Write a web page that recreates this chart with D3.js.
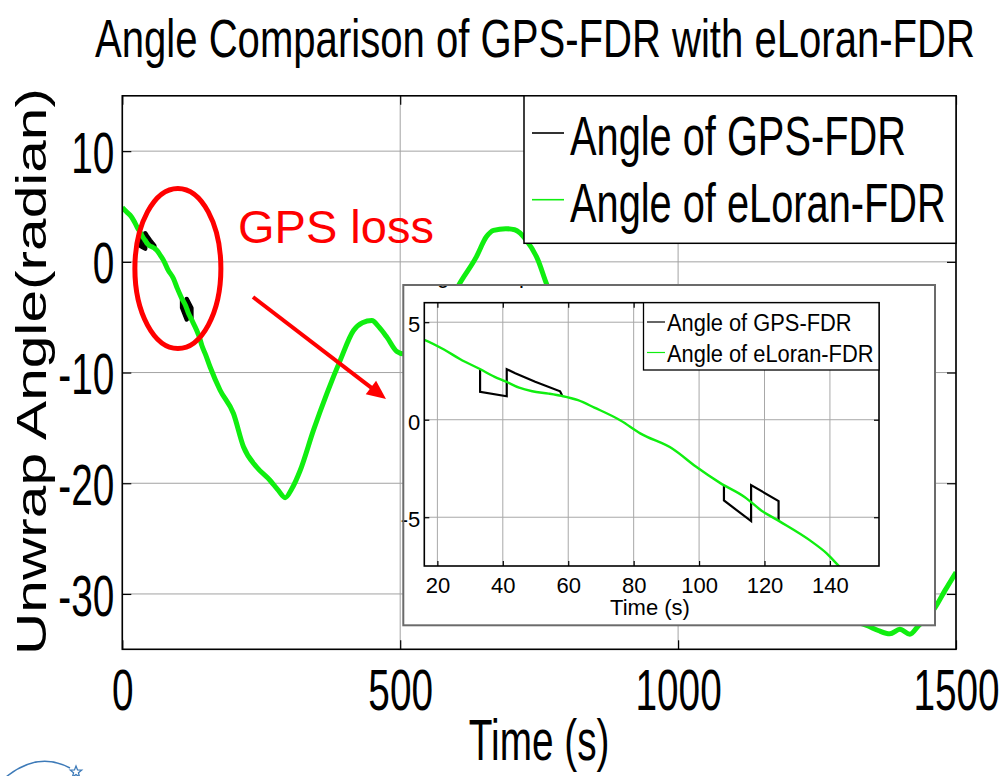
<!DOCTYPE html>
<html><head><meta charset="utf-8">
<script src="https://cdn.jsdelivr.net/npm/d3@7"></script>
<style>body{margin:0;background:#fff} svg{display:block} text{font-family:"Liberation Sans",Arial,Helvetica,sans-serif}</style>
</head><body><svg id="c" width="1005" height="776"></svg>
<script>
// ---------------- data ----------------
const titleText = "Angle Comparison of GPS-FDR with eLoran-FDR";
const seriesNames = ["Angle of GPS-FDR", "Angle of eLoran-FDR"];
const seriesColors = ["#000000", "#10ee10"];
const xLabelText = "Time (s)";
const yLabelText = "Unwrap Angle(radian)";
const annotationText = "GPS loss";

const mainXTicks = [0, 500, 1000, 1500];
const mainYTicks = [-30, -20, -10, 0, 10];
const insetXTicks = [20, 40, 60, 80, 100, 120, 140];
const insetYTicks = [-5, 0, 5];

const eloranT = [0,8,16,22,27,33,37.5,41,45,49,54,58,63,68,76,82,92,99,106.5,114,119,124.5,134,139,143,150,158,176,200,218,242,266,280,293,305,320,344,368,392,416,432,449,462,476,494,505,530,560,590,607,637,655,668,690,706,727,748,763,790,850,950,1050,1150,1250,1342,1360,1381,1399,1417,1432,1462,1480,1500];
const eloranV = [4.9,4.5,4.1,3.6,3.1,2.6,2.2,1.95,1.64,1.46,1.34,1.22,1.0,0.62,-0.04,-0.7,-1.5,-2.4,-3.25,-3.97,-4.65,-5.2,-6.2,-6.85,-7.54,-8.4,-9.5,-11.6,-13.7,-16.7,-18.55,-19.75,-20.6,-21.3,-20.5,-18.85,-15.2,-11.9,-8.9,-6.2,-5.5,-5.3,-5.9,-6.8,-8.1,-8.3,-7.5,-5.5,-3.5,-1.95,0.45,2.26,2.85,3.0,2.9,1.96,0.15,-1.95,-5,-11,-19,-25,-29,-31.5,-32.9,-33.3,-33.6,-33.2,-33.65,-32.9,-31.26,-29.7,-28.05];

const gpsT1 = [33.05, 33.05, 41.2, 41.2, 43.8, 49.9, 57.5, 58.1];
const gpsV1 = [2.59, 1.43, 1.2, 2.59, 2.38, 1.95, 1.46, 1.25];
const gpsT2 = [107.6, 107.6, 115.9, 115.9, 124.3, 124.3];
const gpsV2 = [-3.4, -4.14, -5.2, -3.35, -4.17, -5.17];

// ---------------- helpers ----------------
const eloran = eloranT.map((t, i) => [t, eloranV[i]]);
const gpsSegs = [gpsT1.map((t, i) => [t, gpsV1[i]]), gpsT2.map((t, i) => [t, gpsV2[i]])];
function fit(sel, k) {
  sel.each(function () {
    const L = this.getComputedTextLength();
    if (L > 0) { this.setAttribute("textLength", L * k); this.setAttribute("lengthAdjust", "spacingAndGlyphs"); }
  });
}
const svg = d3.select("#c");
const FONT = '"Liberation Sans",Arial,Helvetica,sans-serif';

// ---------------- main axes ----------------
const M = {l: 122.3, r: 956, t: 95.8, b: 649.3};
const x = d3.scaleLinear([0, 1500], [M.l, M.r]);
const y = d3.scaleLinear([-35, 15], [M.b, M.t]);
const defs = svg.append("defs");
defs.append("clipPath").attr("id", "mainClip").append("rect")
  .attr("x", M.l).attr("y", M.t).attr("width", M.r - M.l).attr("height", M.b - M.t);

// grid
const grid = svg.append("g").attr("stroke", "#a3a3a3").attr("stroke-width", 1);
grid.selectAll("line.h").data(mainYTicks).join("line").attr("class", "h")
  .attr("x1", M.l).attr("x2", M.r).attr("y1", d => y(d)).attr("y2", d => y(d));
grid.selectAll("line.v").data(mainXTicks).join("line").attr("class", "v")
  .attr("y1", M.t).attr("y2", M.b).attr("x1", d => x(d)).attr("x2", d => x(d));

// lines
const mainLine = d3.line().x(d => x(d[0])).y(d => y(d[1]));
const plotG = svg.append("g").attr("clip-path", "url(#mainClip)");
plotG.selectAll("path.gps").data(gpsSegs).join("path").attr("class", "gps")
  .attr("d", mainLine).attr("fill", "none").attr("stroke", seriesColors[0]).attr("stroke-width", 4.5)
  .attr("stroke-linejoin", "round");
plotG.append("path").attr("d", mainLine.curve(d3.curveMonotoneX)(eloran))
  .attr("fill", "none").attr("stroke", seriesColors[1]).attr("stroke-width", 5).attr("stroke-linejoin", "round");

// axes ticks (inward)
function styleAxis(g) { g.select(".domain").remove(); g.selectAll(".tick line").attr("stroke", "#000").attr("stroke-width", 1.2); }
const axL = svg.append("g").attr("transform", `translate(${M.l},0)`)
  .call(d3.axisLeft(y).tickValues(mainYTicks).tickSizeInner(-9).tickSizeOuter(0).tickPadding(8).tickFormat(d => String(d)));
styleAxis(axL);
axL.selectAll("text").attr("font-size", 57).attr("font-family", FONT).attr("fill", "#000").attr("dy", "0.37em");
fit(axL.selectAll("text"), 0.68);
const axR = svg.append("g").attr("transform", `translate(${M.r},0)`)
  .call(d3.axisRight(y).tickValues(mainYTicks).tickSizeInner(-9).tickSizeOuter(0).tickFormat(""));
styleAxis(axR);
const axB = svg.append("g").attr("transform", `translate(0,${M.b})`)
  .call(d3.axisBottom(x).tickValues(mainXTicks).tickSizeInner(-9).tickSizeOuter(0).tickPadding(20).tickFormat(d => String(d)));
styleAxis(axB);
axB.selectAll("text").attr("font-size", 57).attr("font-family", FONT).attr("fill", "#000").attr("dy", "0.71em");
fit(axB.selectAll("text"), 0.68);
const axT = svg.append("g").attr("transform", `translate(0,${M.t})`)
  .call(d3.axisTop(x).tickValues(mainXTicks).tickSizeInner(-9).tickSizeOuter(0).tickFormat(""));
styleAxis(axT);
svg.append("rect").attr("x", M.l).attr("y", M.t).attr("width", M.r - M.l).attr("height", M.b - M.t)
  .attr("fill", "none").attr("stroke", "#000").attr("stroke-width", 1.6);

// title and labels
svg.append("text").attr("x", 535).attr("y", 57).attr("text-anchor", "middle").attr("font-size", 54)
  .attr("textLength", 880).attr("lengthAdjust", "spacingAndGlyphs").text(titleText);
fit(svg.append("text").attr("x", (M.l + M.r) / 2).attr("y", 760).attr("text-anchor", "middle")
  .attr("font-size", 57).text(xLabelText), 0.68);
svg.append("text").attr("transform", "translate(46,371.5) rotate(-90)").attr("text-anchor", "middle")
  .attr("font-size", 42).attr("textLength", 567).attr("lengthAdjust", "spacingAndGlyphs").text(yLabelText);

// legend
const LG = {x: 524, y: 95.8, w: 956 - 524, h: 243.3 - 95.8};
svg.append("rect").attr("x", LG.x).attr("y", LG.y).attr("width", LG.w).attr("height", LG.h)
  .attr("fill", "#fff").attr("stroke", "#000").attr("stroke-width", 1.5);
const legRows = svg.append("g").selectAll("g").data(seriesNames).join("g")
  .attr("transform", (d, i) => `translate(0,${i * 66.7})`);
legRows.append("line").attr("x1", 532).attr("x2", 564).attr("y1", 133).attr("y2", 133)
  .attr("stroke", (d, i) => seriesColors[i]).attr("stroke-width", 1.6);
fit(legRows.append("text").attr("x", 570).attr("y", 155).attr("font-size", 56).text(d => d), 0.71);

// annotation
svg.append("ellipse").attr("cx", x(100)).attr("cy", y(-0.6)).attr("rx", 43).attr("ry", 80)
  .attr("fill", "none").attr("stroke", "#ff0000").attr("stroke-width", 5);
svg.append("text").attr("x", 238).attr("y", 243).attr("font-size", 47).attr("fill", "#ff0000").text(annotationText);
{
  const x0 = 253, y0 = 297, x1 = 386, y1 = 399;
  const dx = x1 - x0, dy = y1 - y0, L = Math.hypot(dx, dy), ux = dx / L, uy = dy / L;
  const hl = 19, hw = 8.5, bx = x1 - ux * hl, by = y1 - uy * hl;
  svg.append("line").attr("x1", x0).attr("y1", y0).attr("x2", bx + ux * 2).attr("y2", by + uy * 2)
    .attr("stroke", "#ff0000").attr("stroke-width", 4);
  svg.append("polygon").attr("points", `${x1},${y1} ${bx - uy * hw},${by + ux * hw} ${bx + uy * hw},${by - ux * hw}`)
    .attr("fill", "#ff0000");
}

// ---------------- inset ----------------
const O = {l: 403.3, t: 285, r: 935, b: 625.3};
const I = {l: 424.3, r: 879, t: 302.7, b: 566};
const xi = d3.scaleLinear([16, 155], [I.l, I.r]);
const yi = d3.scaleLinear([-7.5, 6], [I.b, I.t]);
defs.append("clipPath").attr("id", "outerClip").append("rect")
  .attr("x", O.l).attr("y", O.t).attr("width", O.r - O.l).attr("height", O.b - O.t);
defs.append("clipPath").attr("id", "insetClip").append("rect")
  .attr("x", I.l).attr("y", I.t).attr("width", I.r - I.l).attr("height", I.b - I.t);
svg.append("rect").attr("x", O.l).attr("y", O.t).attr("width", O.r - O.l).attr("height", O.b - O.t)
  .attr("fill", "#fff");
// clipped inset title (only descenders show)
svg.append("g").attr("clip-path", "url(#outerClip)").append("text")
  .attr("x", (I.l + I.r) / 2).attr("y", 283).attr("text-anchor", "middle").attr("font-size", 22).text(titleText);

const ig = svg.append("g").attr("stroke", "#a8a8a8").attr("stroke-width", 1);
ig.selectAll("line.h").data(insetYTicks).join("line").attr("class", "h")
  .attr("x1", I.l).attr("x2", I.r).attr("y1", d => yi(d)).attr("y2", d => yi(d));
ig.selectAll("line.v").data(insetXTicks).join("line").attr("class", "v")
  .attr("y1", I.t).attr("y2", I.b).attr("x1", d => xi(d)).attr("x2", d => xi(d));

const insetLine = d3.line().x(d => xi(d[0])).y(d => yi(d[1]));
const ip = svg.append("g").attr("clip-path", "url(#insetClip)");
ip.selectAll("path.gps").data(gpsSegs).join("path").attr("class", "gps").attr("d", insetLine)
  .attr("fill", "none").attr("stroke", seriesColors[0]).attr("stroke-width", 2.2);
ip.append("path").attr("d", insetLine.curve(d3.curveMonotoneX)(eloran))
  .attr("fill", "none").attr("stroke", seriesColors[1]).attr("stroke-width", 2.4);

const iaL = svg.append("g").attr("transform", `translate(${I.l},0)`)
  .call(d3.axisLeft(yi).tickValues(insetYTicks).tickSizeInner(-5).tickSizeOuter(0).tickPadding(4).tickFormat(d => String(d)));
styleAxis(iaL);
iaL.selectAll("text").attr("font-size", 22).attr("font-family", FONT).attr("fill", "#000").attr("dy", "0.43em");
const iaR = svg.append("g").attr("transform", `translate(${I.r},0)`)
  .call(d3.axisRight(yi).tickValues(insetYTicks).tickSizeInner(-5).tickSizeOuter(0).tickFormat(""));
styleAxis(iaR);
const iaB = svg.append("g").attr("transform", `translate(0,${I.b})`)
  .call(d3.axisBottom(xi).tickValues(insetXTicks).tickSizeInner(-5).tickSizeOuter(0).tickPadding(11).tickFormat(d => String(d)));
styleAxis(iaB);
iaB.selectAll("text").attr("font-size", 22).attr("font-family", FONT).attr("fill", "#000").attr("dy", "0.71em");
const iaT = svg.append("g").attr("transform", `translate(0,${I.t})`)
  .call(d3.axisTop(xi).tickValues(insetXTicks).tickSizeInner(-5).tickSizeOuter(0).tickFormat(""));
styleAxis(iaT);
svg.append("rect").attr("x", I.l).attr("y", I.t).attr("width", I.r - I.l).attr("height", I.b - I.t)
  .attr("fill", "none").attr("stroke", "#000").attr("stroke-width", 1.6);
svg.append("text").attr("x", 650).attr("y", 615).attr("text-anchor", "middle").attr("font-size", 22).text(xLabelText);

// inset legend
const IL = {x: 643.5, y: I.t, w: I.r - 643.5, h: 370 - I.t};
svg.append("rect").attr("x", IL.x).attr("y", IL.y).attr("width", IL.w).attr("height", IL.h)
  .attr("fill", "#fff").attr("stroke", "#000").attr("stroke-width", 1.3);
const ilRows = svg.append("g").selectAll("g").data(seriesNames).join("g")
  .attr("transform", (d, i) => `translate(0,${i * 30.5})`);
ilRows.append("line").attr("x1", 647).attr("x2", 665).attr("y1", 322).attr("y2", 322)
  .attr("stroke", (d, i) => seriesColors[i]).attr("stroke-width", 1.2);
fit(ilRows.append("text").attr("x", 667).attr("y", 331).attr("font-size", 23).text(d => d), 0.95);

// inset frame
svg.append("rect").attr("x", O.l).attr("y", O.t).attr("width", O.r - O.l).attr("height", O.b - O.t)
  .attr("fill", "none").attr("stroke", "#6b6b6b").attr("stroke-width", 2);

// logo fragment bottom-left
svg.append("path").attr("d", "M6,777 Q38,751 70,768").attr("fill", "none").attr("stroke", "#3d7ab8").attr("stroke-width", 1.5);
{
  const cx = 76, cy = 772, R = 6, r = 2.6, pts = [];
  for (let k = 0; k < 10; k++) {
    const a = -Math.PI / 2 + k * Math.PI / 5, rr = k % 2 ? r : R;
    pts.push([cx + rr * Math.cos(a), cy + rr * Math.sin(a)]);
  }
  svg.append("polygon").attr("points", pts.map(p => p.join(",")).join(" "))
    .attr("fill", "none").attr("stroke", "#3d7ab8").attr("stroke-width", 1.3);
}
</script></body></html>
